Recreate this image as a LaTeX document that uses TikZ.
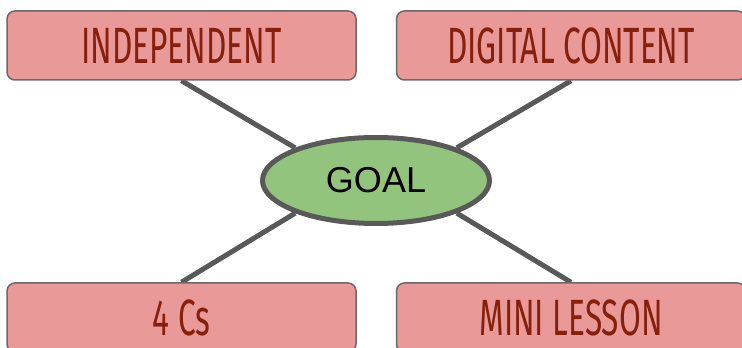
\documentclass[tikz,border=0pt]{standalone}
\usepackage{fontspec}
\setmainfont{Liberation Sans}
\newfontfamily\topicfont[FakeStretch=0.62]{Fira Sans}
\usetikzlibrary{shapes.geometric,backgrounds}
\definecolor{topicfill}{HTML}{EA9999}
\definecolor{topictext}{HTML}{85200C}
\definecolor{goalfill}{HTML}{93C47D}
\definecolor{linkgray}{HTML}{595959}

\begin{document}
\begin{tikzpicture}[x=1pt,y=1pt,
   topic/.style={draw=linkgray!90,line width=1.5pt,fill=topicfill,rounded corners=8pt,
      minimum width=349pt,minimum height=69pt,text=topictext,
      font=\topicfont\fontsize{51}{51}\selectfont},
   link/.style={draw=linkgray,line width=5pt}]
   \useasboundingbox (0,0) rectangle (742,348);
   \node[topic] (indep) at (181.5,302.5) {INDEPENDENT};
   \node[topic] (digital) at (571,302.5) {DIGITAL CONTENT};
   \node[topic] (fourcs) at (181.5,30.5) {4 Cs};
   \node[topic] (mini) at (571,30.5) {MINI LESSON};
   \node[ellipse,draw=linkgray,line width=5pt,fill=goalfill,minimum width=227pt,
      minimum height=86pt,font=\fontsize{36}{36}\selectfont] (goal) at (376,167.5) {GOAL};
   \begin{scope}[on background layer]
      \draw[link] (indep.south) -- (goal.158);
      \draw[link] (digital.south) -- (goal.22);
      \draw[link] (fourcs.north) -- (goal.202);
      \draw[link] (mini.north) -- (goal.338);
   \end{scope}
\end{tikzpicture}
\end{document}
